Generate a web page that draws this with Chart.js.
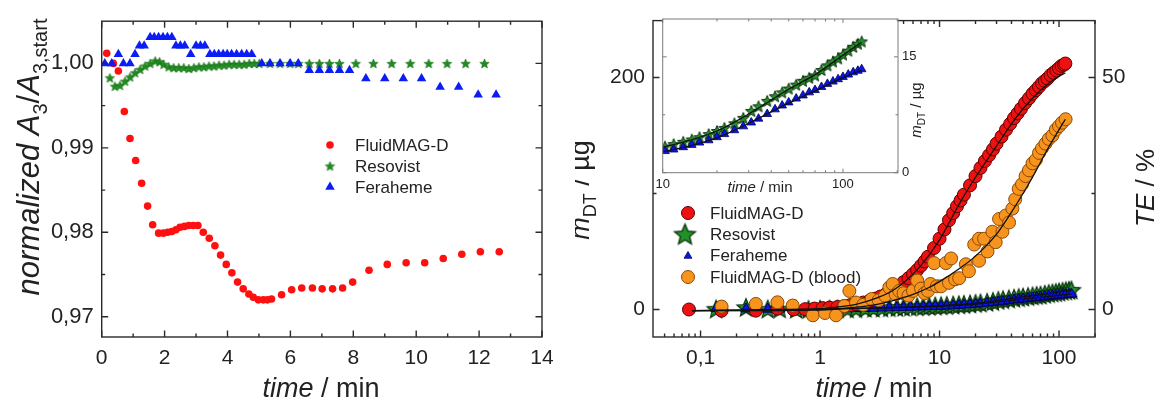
<!DOCTYPE html>
<html>
<head>
<meta charset="utf-8">
<script src="https://cdn.jsdelivr.net/npm/chart.js@4.4.0/dist/chart.umd.min.js"></script>
<style>
html, body { margin: 0; padding: 0; background: #fff; }
#wrap { position: relative; width: 1162px; height: 405px; overflow: hidden; }
canvas { position: absolute; top: 0; }
</style>
</head>
<body>
<div id="wrap">
  <canvas id="left" width="575" height="405" style="left:0px"></canvas>
  <canvas id="right" width="587" height="405" style="left:575px"></canvas>
  <canvas id="inset" width="300" height="205" style="left:640px"></canvas>
</div>
<script>
// ---- left panel: normalized A3 vs time (min)
var fluidT = [0.16, 0.37, 0.53, 0.72, 0.90, 1.08, 1.27, 1.46, 1.62, 1.81, 1.96, 2.10, 2.23, 2.36, 2.49, 2.63, 2.77, 2.91, 3.06, 3.23, 3.42, 3.60, 3.78, 3.96, 4.14, 4.32, 4.50, 4.68, 4.82, 4.98, 5.14, 5.27, 5.40, 5.72, 6.04, 6.36, 6.70, 7.01, 7.34, 7.66, 7.98, 8.50, 9.08, 9.68, 10.27, 10.86, 11.45, 12.04, 12.64];
var fluidA = [1.0012, 1.0000, 0.9991, 0.9943, 0.9911, 0.9885, 0.9858, 0.9831, 0.9809, 0.9799, 0.9799, 0.9800, 0.9801, 0.9803, 0.9806, 0.9807, 0.9808, 0.9808, 0.9808, 0.9800, 0.9793, 0.9784, 0.9773, 0.9762, 0.9752, 0.9741, 0.9733, 0.9727, 0.9723, 0.9720, 0.9720, 0.9720, 0.9721, 0.9726, 0.9732, 0.9734, 0.9734, 0.9733, 0.9733, 0.9734, 0.9741, 0.9755, 0.9762, 0.9764, 0.9764, 0.9769, 0.9774, 0.9777, 0.9777];
var resoT = [0.26, 0.42, 0.58, 0.74, 0.90, 1.06, 1.22, 1.38, 1.54, 1.70, 1.84, 1.97, 2.13, 2.29, 2.45, 2.61, 2.77, 2.93, 3.09, 3.25, 3.41, 3.57, 3.73, 3.89, 4.05, 4.21, 4.37, 4.53, 4.69, 4.85, 5.01, 5.35, 5.67, 5.99, 6.25, 6.60, 6.92, 7.24, 7.56, 8.08, 8.64, 9.22, 9.81, 10.40, 10.98, 11.57, 12.17];
var resoA = [0.9983, 0.9973, 0.9974, 0.9979, 0.9984, 0.9989, 0.9993, 0.9997, 1.0000, 1.0003, 1.0002, 0.9999, 0.9996, 0.9995, 0.9995, 0.9995, 0.9994, 0.9995, 0.9996, 0.9996, 0.9997, 0.9997, 0.9998, 0.9998, 0.9999, 0.9999, 0.9999, 0.9999, 1.0000, 1.0000, 1.0000, 1.0000, 1.0000, 1.0000, 1.0000, 1.0000, 1.0000, 1.0000, 1.0000, 1.0000, 1.0000, 1.0000, 1.0000, 1.0000, 1.0000, 1.0000, 1.0000];
var feraT = [0.10, 0.32, 0.53, 0.69, 0.90, 1.06, 1.20, 1.35, 1.54, 1.67, 1.81, 1.95, 2.09, 2.23, 2.36, 2.50, 2.64, 2.83, 3.00, 3.14, 3.28, 3.44, 3.58, 3.72, 3.86, 3.99, 4.13, 4.29, 4.45, 4.61, 4.77, 5.09, 5.35, 5.67, 5.99, 6.25, 6.60, 6.92, 7.24, 7.56, 7.88, 8.40, 9.00, 9.59, 10.17, 10.76, 11.35, 11.97, 12.54];
var feraA = [1.0000, 1.0000, 1.0011, 1.0000, 1.0000, 1.0011, 1.0021, 1.0021, 1.0031, 1.0031, 1.0031, 1.0031, 1.0031, 1.0031, 1.0021, 1.0021, 1.0021, 1.0011, 1.0021, 1.0021, 1.0021, 1.0011, 1.0011, 1.0011, 1.0011, 1.0011, 1.0011, 1.0011, 1.0011, 1.0011, 1.0011, 1.0000, 1.0000, 1.0000, 1.0000, 1.0000, 0.9992, 0.9992, 0.9992, 0.9992, 0.9992, 0.9982, 0.9982, 0.9982, 0.9982, 0.9972, 0.9972, 0.9963, 0.9963];
var leftXTicks = [0, 2, 4, 6, 8, 10, 12, 14];
var leftXMinor = [1, 3, 5, 7, 9, 11, 13];
var leftYTicks = [0.97, 0.98, 0.99, 1.00];
var leftYMinor = [0.975, 0.985, 0.995];

// ---- right panel: m_DT (ug) vs time (min), log time
var redT = [0.08, 0.15, 0.29, 0.44, 0.6, 0.75, 0.9, 1.05, 1.2, 1.4, 1.6, 1.8, 2.0, 2.3, 2.6, 2.9, 3.2, 3.6, 4.0, 4.5, 5.0, 5.5, 6.0, 6.5, 7.0, 7.5, 8.0, 9, 10, 11, 12, 13, 14, 15, 16, 18, 20, 22, 24, 26, 28, 30, 33, 36, 39, 42, 45, 48, 52, 56, 60, 64, 68, 72, 76, 80, 85, 90, 95, 100, 105, 110, 113];
var redM = [0, -1, -1, 0.8, 0, 0.3, 0.8, 1.2, 1.6, 2.2, 3.0, 3.8, 4.6, 6.0, 7.6, 9.4, 11.2, 13.8, 16.5, 20, 23.6, 27, 30.5, 34, 37.8, 41.5, 45.5, 53, 61, 69, 77, 83, 89, 94, 99, 107, 115, 122, 128, 133, 138, 143, 149, 155, 160, 165, 169, 173, 178, 182, 186, 189, 192, 195, 197, 199, 202, 204, 206, 208, 210, 211, 212];
var redFitT = [0.085, 0.3, 0.7, 1, 1.5, 2, 3, 4, 5, 7, 10, 15, 20, 30, 40, 50, 70, 90, 113];
var redFitM = [-1, -1, -0.5, 0.8, 2.5, 4.5, 10, 16, 23, 38, 60, 93, 114, 141, 160, 173, 189, 198, 204];
var bloodT = [0.15, 0.29, 0.44, 0.59, 0.87, 1.1, 1.36, 1.6, 1.76, 2.0, 2.3, 2.7, 3.1, 3.5, 3.8, 4.05, 4.3, 4.6, 5.0, 5.5, 6.0, 6.5, 7.0, 7.5, 8.0, 8.4, 9.0, 9.5, 10.3, 11.3, 12.0, 12.5, 13.5, 14.6, 16.6, 17.6, 19.5, 21.4, 21.4, 23.6, 25.2, 27.7, 29.5, 31.5, 33.6, 35.8, 38.2, 40.7, 43, 46, 49, 52.5, 56, 60, 64, 68, 72, 77, 82, 88, 94, 100, 106, 113.5];
var bloodM = [2.5, 4.8, 6.2, 3.4, -5, -3, -5, 3, 16, 6, 4, 9, 8, 12, 19, 22, 13, 16, 14, 12, 16, 25, 18, 14, 16, 22, 40, 20, 20, 40, 23, 44, 26, 27, 39, 33, 56, 42, 61, 61, 50, 67, 58, 78, 67, 81, 75, 87, 95, 104, 108, 115, 120, 126, 129, 135, 139, 143, 147, 150, 155, 158, 161, 164];
var bloodFitT = [0.085, 1, 2, 3, 4, 6, 8, 10, 15, 20, 30, 40, 50, 60, 80, 100, 113];
var bloodFitM = [-1, -0.5, 2, 4.5, 7.5, 13, 18.5, 24, 36, 46, 65, 84, 100, 114, 138, 155, 164];
var slowT = [0.135, 0.24, 0.365, 0.46, 0.63, 0.8, 1.0, 1.2, 1.4, 1.7, 2.0, 2.4, 2.8, 3.3, 3.8, 4.4, 5.0, 5.7, 6.5, 7.3, 8.2, 9.2, 10.3, 11.5, 13, 14.5, 16, 18, 20, 22, 25, 28, 31, 34, 38, 42, 46, 50, 55, 60, 65, 70, 76, 82, 88, 94, 100, 107, 114, 121, 127];
var resoM = [0.6, 2, 0.6, 0.8, 0.5, 0.2, 0.4, 0.5, 0.6, 0.8, 1.0, 1.2, 1.4, 1.6, 1.8, 2.0, 2.2, 2.4, 2.6, 2.8, 3.0, 3.2, 3.4, 3.7, 4.0, 4.3, 4.6, 5.0, 5.4, 5.8, 6.4, 7.1, 8.0, 8.6, 9.3, 9.9, 10.4, 10.9, 11.4, 11.9, 12.3, 12.6, 13.3, 13.9, 14.4, 14.8, 15.3, 15.8, 16.3, 16.7, 17.0];
var feraM = [0.8, 0.5, 0.3, 0.4, 0.3, 0.2, 0.3, 0.4, 0.5, 0.6, 0.8, 0.9, 1.1, 1.3, 1.5, 1.6, 1.8, 2.0, 2.2, 2.3, 2.5, 2.6, 2.8, 3.0, 3.3, 3.6, 3.9, 4.2, 4.6, 5.0, 5.5, 6.0, 6.5, 7.0, 7.6, 8.2, 8.7, 9.1, 9.6, 10.0, 10.4, 10.7, 11.1, 11.5, 11.8, 12.1, 12.4, 12.7, 13.0, 13.2, 13.4];
var slowFitT = [0.085, 1, 3, 10, 20, 30, 50, 70, 100, 127];
var resoFitM = [-1, 0.3, 1.4, 3.3, 5.4, 7.6, 10.8, 12.7, 15.2, 16.9];
var feraFitM = [-1, 0.3, 1.2, 2.7, 4.5, 6.4, 9.0, 10.6, 12.3, 13.3];
var logTicks = [0.1, 1, 10, 100];
var logMinor = [0.05, 0.06, 0.07, 0.08, 0.09, 0.2, 0.3, 0.4, 0.5, 0.6, 0.7, 0.8, 0.9, 2, 3, 4, 5, 6, 7, 8, 9, 20, 30, 40, 50, 60, 70, 80, 90, 200];
var mTicks = [0, 200];
var mMinor = [100];
var teTicks = [0, 50];
var teMinor = [25];
var insetXTicks = [10, 100];
var insetXMinor = [20, 30, 40, 50, 60, 70, 80, 90, 200];
var insetYTicks = [0, 15];
var insetYMinor = [7.5];

var FONT = "'Liberation Sans', Arial, sans-serif";
var INK = '#222';

function pts(xs, ys) {
    return xs.map(function(x, i) { return {x: x, y: ys[i]}; });
}

// filled five point star as a point style
function starImg(r, fill, stroke, lw) {
    var c = document.createElement('canvas');
    var s = Math.ceil(2 * r + 2 * lw + 2);
    c.width = s; c.height = s;
    var g = c.getContext('2d');
    g.translate(s / 2, s / 2 + r * 0.1);
    g.beginPath();
    for (var i = 0; i < 10; i++) {
        var rad = i % 2 ? r * 0.45 : r;
        var a = -Math.PI / 2 + i * Math.PI / 5;
        g.lineTo(rad * Math.cos(a), rad * Math.sin(a));
    }
    g.closePath();
    g.fillStyle = fill; g.fill();
    if (lw) { g.lineWidth = lw; g.strokeStyle = stroke; g.stroke(); }
    return c;
}

var starLeft = starImg(5, '#1e8c1e', '#146414', 0.5);
var starRight = starImg(9.5, '#23902a', '#0a300a', 1.2);
var starLegend = starImg(11, '#23902a', '#0a300a', 1.3);
var starInset = starImg(6, '#23902a', '#0a300a', 1);

function drawRich(ctx, parts, x, y, rot, size) {
    ctx.save();
    ctx.translate(x, y);
    ctx.rotate(rot);
    function fontFor(p) {
        var sub = p[1].indexOf('s') >= 0;
        return (p[1].indexOf('i') >= 0 ? 'italic ' : '') + Math.round(sub ? size * 0.66 : size) + 'px ' + FONT;
    }
    var w = 0;
    parts.forEach(function(p) { ctx.font = fontFor(p); w += ctx.measureText(p[0]).width; });
    var cx = -w / 2;
    ctx.textBaseline = 'alphabetic';
    ctx.textAlign = 'left';
    ctx.fillStyle = INK;
    parts.forEach(function(p) {
        ctx.font = fontFor(p);
        ctx.fillText(p[0], cx, p[1].indexOf('s') >= 0 ? size * 0.26 : 0);
        cx += ctx.measureText(p[0]).width;
    });
    ctx.restore();
}

function marker(ctx, kind, x, y, r, fill, stroke, lw) {
    ctx.save();
    if (kind === 'img') {
        ctx.drawImage(fill, x - fill.width / 2, y - fill.height / 2);
        ctx.restore();
        return;
    }
    ctx.beginPath();
    if (kind === 'circle') {
        ctx.arc(x, y, r, 0, Math.PI * 2);
    } else {
        ctx.moveTo(x, y - r);
        ctx.lineTo(x + r * 0.866, y + r * 0.5);
        ctx.lineTo(x - r * 0.866, y + r * 0.5);
        ctx.closePath();
    }
    ctx.fillStyle = fill; ctx.fill();
    if (lw) { ctx.lineWidth = lw; ctx.strokeStyle = stroke; ctx.stroke(); }
    ctx.restore();
}

function legendText(ctx, txt, x, y, size) {
    ctx.save();
    ctx.font = size + 'px ' + FONT;
    ctx.fillStyle = INK;
    ctx.textBaseline = 'middle';
    ctx.fillText(txt, x, y + 1);
    ctx.restore();
}

// box, inward ticks on all four sides, titles and legend
function framePlugin(cfg) {
    return {
        id: 'frame',
        beforeDatasetsDraw: function(chart) {
            if (!cfg.fill) return;
            var a = chart.chartArea, ctx = chart.ctx;
            ctx.save();
            ctx.fillStyle = cfg.fill;
            ctx.fillRect(a.left, a.top, a.right - a.left, a.bottom - a.top);
            ctx.restore();
        },
        afterDraw: function(chart) {
            var ctx = chart.ctx, a = chart.chartArea;
            ctx.save();
            ctx.strokeStyle = cfg.color;
            ctx.lineWidth = cfg.lw;
            ctx.beginPath();
            var xs = chart.scales.x;
            var inX = function(v) { return v >= xs.min && v <= xs.max; };
            [[cfg.xMajor, cfg.major], [cfg.xMinor, cfg.minor]].forEach(function(d) {
                d[0].filter(inX).forEach(function(v) {
                    var p = xs.getPixelForValue(v);
                    ctx.moveTo(p, a.bottom); ctx.lineTo(p, a.bottom - d[1]);
                    ctx.moveTo(p, a.top); ctx.lineTo(p, a.top + d[1]);
                });
            });
            cfg.ySides.forEach(function(side) {
                var sc = chart.scales[side.scale];
                [[side.major, cfg.major], [side.minor, cfg.minor]].forEach(function(d) {
                    d[0].forEach(function(v) {
                        var p = sc.getPixelForValue(v);
                        if (side.left) { ctx.moveTo(a.left, p); ctx.lineTo(a.left + d[1], p); }
                        if (side.right) { ctx.moveTo(a.right, p); ctx.lineTo(a.right - d[1], p); }
                    });
                });
            });
            ctx.stroke();
            ctx.strokeRect(a.left, a.top, a.right - a.left, a.bottom - a.top);
            ctx.restore();
            if (cfg.extra) cfg.extra(ctx, chart);
        }
    };
}

function tickFont(size) { return {family: FONT, size: size}; }

function baseOptions(pad) {
    return {
        responsive: false,
        animation: false,
        events: [],
        layout: {padding: pad, autoPadding: false},
        plugins: {legend: {display: false}, tooltip: {enabled: false}}
    };
}

function axis(opts) {
    var s = {
        type: opts.type || 'linear',
        min: opts.min,
        max: opts.max,
        grid: {display: false, drawTicks: false},
        border: {display: false},
        ticks: {
            font: tickFont(opts.size), color: INK, padding: opts.pad,
            autoSkip: false, maxRotation: 0, minRotation: 0,
            callback: opts.fmt
        },
        afterBuildTicks: function(sc) { sc.ticks = opts.ticks.map(function(v) { return {value: v}; }); }
    };
    if (opts.position) s.position = opts.position;
    if (opts.w) s.afterFit = function(sc) { sc.width = opts.w; };
    if (opts.h) s.afterFit = function(sc) { sc.height = opts.h; };
    return s;
}

var comma = function(v) { return String(v).replace('.', ','); };

// ---------------- left chart
var leftOpts = baseOptions({left: 0, top: 15, right: 33, bottom: 0});
leftOpts.scales = {
    x: axis({min: 0, max: 14, ticks: leftXTicks, size: 21, pad: 9, h: 68, fmt: function(v) { return String(v); }}),
    y: axis({min: 0.9676, max: 1.005, ticks: leftYTicks, size: 22, pad: 8, w: 101.7, fmt: function(v) { return v.toFixed(2).replace('.', ','); }})
};

new Chart(document.getElementById('left'), {
    type: 'scatter',
    data: {
        datasets: [{
            label: 'Feraheme', data: pts(feraT, feraA),
            pointStyle: 'triangle', pointRadius: 5.5, backgroundColor: '#0b1cf5', borderWidth: 0
        }, {
            label: 'Resovist', data: pts(resoT, resoA),
            pointStyle: starLeft, pointRadius: 5
        }, {
            label: 'FluidMAG-D', data: pts(fluidT, fluidA),
            pointStyle: 'circle', pointRadius: 3.8, backgroundColor: '#ff1010', borderWidth: 0
        }]
    },
    options: leftOpts,
    plugins: [framePlugin({
        color: '#2a2a2a', lw: 1.4, major: 6.5, minor: 3.5,
        xMajor: leftXTicks, xMinor: leftXMinor,
        ySides: [{scale: 'y', major: leftYTicks, minor: leftYMinor, left: true, right: true}],
        extra: function(ctx) {
            drawRich(ctx, [['time', 'i'], [' / min', '']], 321, 397, 0, 27);
            drawRich(ctx, [['normalized A', 'i'], ['3', 's'], ['/', ''], ['A', 'i'], ['3,start', 's']], 39, 157, -Math.PI / 2, 31);
            marker(ctx, 'circle', 330, 145, 3.8, '#ff1010');
            marker(ctx, 'img', 330, 166, 0, starLeft);
            marker(ctx, 'tri', 330, 187, 5.5, '#0b1cf5');
            legendText(ctx, 'FluidMAG-D', 355, 145, 17);
            legendText(ctx, 'Resovist', 355, 166, 17);
            legendText(ctx, 'Feraheme', 355, 187, 17);
        }
    })]
});

// ---------------- right chart
var fitStyle = {showLine: true, pointRadius: 0, borderColor: '#111', borderWidth: 1.3, cubicInterpolationMode: 'monotone', fill: false};
function fit(xs, ys) {
    return Object.assign({data: pts(xs, ys)}, fitStyle);
}

var rightOpts = baseOptions({left: 0, top: 15, right: 0, bottom: 0});
rightOpts.scales = {
    x: axis({type: 'logarithmic', min: 0.04, max: 200, ticks: logTicks, size: 21, pad: 9, h: 68, fmt: comma}),
    y: axis({min: -23.7, max: 249, ticks: mTicks, size: 21, pad: 8, w: 78, fmt: function(v) { return String(v); }}),
    y2: axis({min: -23.7 / 4, max: 249 / 4, ticks: teTicks, size: 21, pad: 7, w: 67, position: 'right', fmt: function(v) { return String(v); }})
};

new Chart(document.getElementById('right'), {
    type: 'scatter',
    data: {
        datasets: [
            fit(redFitT, redFitM),
            fit(bloodFitT, bloodFitM),
            fit(slowFitT, resoFitM),
            fit(slowFitT, feraFitM),
            {label: 'FluidMAG-D (blood)', data: pts(bloodT, bloodM), pointStyle: 'circle', pointRadius: 6.5,
             backgroundColor: '#f7941d', borderColor: '#8a4a08', borderWidth: 1},
            {label: 'FluidMAG-D', data: pts(redT, redM), pointStyle: 'circle', pointRadius: 6.5,
             backgroundColor: '#ee1111', borderColor: '#5e0000', borderWidth: 1},
            {label: 'Feraheme', data: pts(slowT, feraM), pointStyle: 'triangle', pointRadius: 6,
             backgroundColor: '#0b16e8', borderColor: '#00005a', borderWidth: 1},
            {label: 'Resovist', data: pts(slowT, resoM), pointStyle: starRight, pointRadius: 9.5}
        ]
    },
    options: rightOpts,
    plugins: [framePlugin({
        color: '#2a2a2a', lw: 1.4, major: 6.5, minor: 3.5,
        xMajor: logTicks, xMinor: logMinor,
        ySides: [{scale: 'y', major: mTicks, minor: mMinor, left: true},
                 {scale: 'y2', major: teTicks, minor: teMinor, right: true}],
        extra: function(ctx) {
            drawRich(ctx, [['time', 'i'], [' / min', '']], 299, 397, 0, 27);
            drawRich(ctx, [['m', 'i'], ['DT', 's'], [' / \u00b5g', '']], 14, 190, -Math.PI / 2, 27);
            drawRich(ctx, [['TE', 'i'], [' / %', '']], 579, 188, -Math.PI / 2, 26);
            marker(ctx, 'circle', 113, 213, 6.5, '#ee1111', '#5e0000', 1);
            marker(ctx, 'img', 110, 234, 0, starLegend);
            marker(ctx, 'tri', 113, 256, 4.5, '#0b16e8', '#00005a', 0.8);
            marker(ctx, 'circle', 113, 277, 6.5, '#f7941d', '#8a4a08', 1);
            legendText(ctx, 'FluidMAG-D', 135, 213, 17);
            legendText(ctx, 'Resovist', 135, 234, 17);
            legendText(ctx, 'Feraheme', 135, 255, 17);
            legendText(ctx, 'FluidMAG-D (blood)', 135, 277, 17);
        }
    })]
});

// ---------------- inset
var insetOpts = baseOptions({left: 22.7, top: 19, right: 0, bottom: 0});
insetOpts.scales = {
    x: axis({type: 'logarithmic', min: 10, max: 202, ticks: insetXTicks, size: 13, pad: 4, h: 32.3, fmt: comma}),
    y: axis({min: 0, max: 19.9, ticks: insetYTicks, size: 13, pad: 4, w: 42, position: 'right', fmt: function(v) { return String(v); }})
};

new Chart(document.getElementById('inset'), {
    type: 'scatter',
    data: {
        datasets: [
            Object.assign(fit(slowFitT, resoFitM), {clip: 0}),
            Object.assign(fit(slowFitT, feraFitM), {clip: 0}),
            {label: 'Feraheme', data: pts(slowT, feraM), pointStyle: 'triangle', pointRadius: 5,
             backgroundColor: '#0b16e8', borderColor: '#00005a', borderWidth: 0.8, clip: 0},
            {label: 'Resovist', data: pts(slowT, resoM), pointStyle: starInset, pointRadius: 6, clip: 0}
        ]
    },
    options: insetOpts,
    plugins: [framePlugin({
        fill: '#fff', color: '#7a7a7a', lw: 1, major: 4, minor: 2.5,
        xMajor: insetXTicks, xMinor: insetXMinor,
        ySides: [{scale: 'y', major: insetYTicks, minor: insetYMinor, left: true, right: true}],
        extra: function(ctx) {
            drawRich(ctx, [['time', 'i'], [' / min', '']], 120, 192, 0, 15);
            drawRich(ctx, [['m', 'i'], ['DT', 's'], [' / \u00b5g', '']], 281, 110, -Math.PI / 2, 15);
        }
    })]
});
</script>
</body>
</html>
